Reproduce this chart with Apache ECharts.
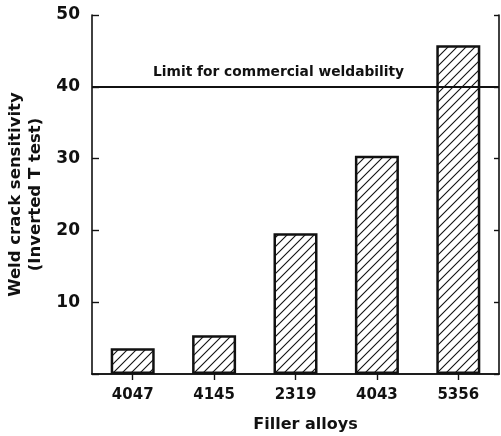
<!DOCTYPE html>
<html><head><meta charset="utf-8">
<script src="https://cdn.jsdelivr.net/npm/echarts@6/dist/echarts.min.js"></script>
<style>html,body{margin:0;padding:0;background:#fff}#c{width:501px;height:436px}</style>
</head><body><div id="c"></div>
<script>
var categories = ['4047', '4145', '2319', '4043', '5356'];
var sensitivity = [3.6, 5.4, 19.6, 30.4, 45.8];
var limitValue = 40;
var limitLabel = 'Limit for commercial weldability';
var yAxisTitle = 'Weld crack sensitivity\n(Inverted T test)';
var xAxisTitle = 'Filler alloys';

function hatch() {
  var s = 9, c = document.createElement('canvas');
  c.width = s; c.height = s;
  var g = c.getContext('2d');
  g.fillStyle = '#fff'; g.fillRect(0, 0, s, s);
  g.strokeStyle = '#111'; g.lineWidth = 1.1;
  g.beginPath();
  g.moveTo(-1, s + 1); g.lineTo(s + 1, -1);
  g.moveTo(-1, 1); g.lineTo(1, -1);
  g.moveTo(s - 1, s + 1); g.lineTo(s + 1, s - 1);
  g.stroke();
  return c;
}
var font = 'DejaVu Sans';
var chart = echarts.init(document.getElementById('c'), null, {renderer: 'canvas'});
chart.setOption({
  animation: false,
  backgroundColor: '#fff',
  grid: {left: 92, right: 2, top: 15, bottom: 62, containLabel: false, outerBoundsMode: 'none'},
  xAxis: [{
    type: 'category', data: categories, position: 'bottom',
    axisLine: {lineStyle: {color: '#111', width: 1.6}},
    axisTick: {show: false},
    axisLabel: {color: '#111', fontFamily: font, fontWeight: 'bold', fontSize: 15, margin: 14},
    name: xAxisTitle, nameLocation: 'middle', nameGap: 43,
    nameTextStyle: {color: '#111', fontFamily: font, fontWeight: 'bold', fontSize: 16, padding: [0, 0, 0, 20]}
  }, {
    type: 'category', data: categories, position: 'top',
    axisLine: {lineStyle: {color: '#111', width: 1.6}},
    axisTick: {show: true, inside: true, alignWithLabel: true, length: 6, lineStyle: {color: '#111', width: 1.4}},
    axisLabel: {show: false}
  }],
  yAxis: [{
    type: 'value', min: 0, max: 50, interval: 10, position: 'left',
    axisLine: {show: true, lineStyle: {color: '#111', width: 1.6}},
    axisTick: {show: true, inside: true, length: 7, lineStyle: {color: '#111', width: 1.4}},
    splitLine: {show: false},
    axisLabel: {color: '#111', fontFamily: font, fontWeight: 'bold', fontSize: 17, margin: 12,
      formatter: function (v) { return v === 0 ? '' : String(v); }},
    name: yAxisTitle, nameLocation: 'middle', nameRotate: 90, nameGap: 46,
    nameTextStyle: {color: '#111', fontFamily: font, fontWeight: 'bold', fontSize: 16.5, lineHeight: 20}
  }, {
    type: 'value', min: 0, max: 50, interval: 10, position: 'right',
    axisLine: {show: true, lineStyle: {color: '#111', width: 1.6}},
    axisTick: {show: true, inside: true, length: 5, lineStyle: {color: '#111', width: 1.4}},
    splitLine: {show: false},
    axisLabel: {show: false}
  }],
  series: [{
    type: 'bar', data: sensitivity, barWidth: 44,
    itemStyle: {color: {image: hatch(), repeat: 'repeat'}, borderColor: '#111', borderWidth: 2.5},
    markLine: {
      silent: true, symbol: ['none', 'none'],
      lineStyle: {color: '#111', type: 'solid', width: 2},
      label: {show: true, position: 'insideStartTop', distance: [61, 7], formatter: limitLabel,
        color: '#111', fontFamily: font, fontWeight: 'bold', fontSize: 13.8},
      data: [{yAxis: limitValue}]
    }
  }]
});
</script></body></html>
